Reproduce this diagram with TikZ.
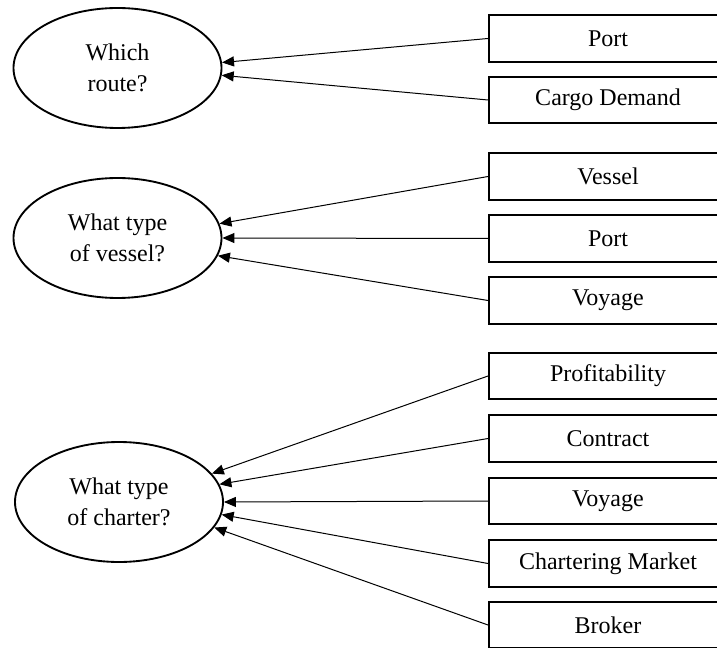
\documentclass[tikz,border=0pt]{standalone}
\usepackage{fontspec}
\setmainfont{Liberation Serif}
\usetikzlibrary{ shapes.geometric, % For the ellipses
                 arrows.meta,
               }
\tikzstyle{edge} = [-{Triangle[length=9pt,width=7.5pt]}, line width=0.75pt]
\tikzstyle{question} = [ellipse, draw=black, line width=1.4pt, minimum width=156pt, minimum height=90pt, inner sep=0pt, align=center, font=\fontsize{18}{23}\selectfont]
\tikzstyle{factor} = [rectangle, draw=black, line width=1.5pt, minimum width=178.5pt, minimum height=35pt, font=\fontsize{18}{21}\selectfont]

\begin{document}
\begin{tikzpicture}[x=0.75pt, y=-0.75pt]
  \useasboundingbox (0, 0) rectangle (717, 648);
  \clip (0, 0) rectangle (717, 648);
  % questions
  \node (q1) [question] at (117.5, 68) {Which\\route?};
  \node (q2) [question] at (117.5, 238) {What type\\of vessel?};
  \node (q3) [question] at (119, 502) {What type\\of charter?};
  % factors
  \node (r1) [factor] at (608, 38.5) {Port};
  \node (r2) [factor] at (608, 100) {Cargo Demand};
  \node (v1) [factor] at (608, 176.5) {Vessel};
  \node (v2) [factor] at (608, 238.5) {Port};
  \node (v3) [factor] at (608, 300.5) {Voyage};
  \node (c1) [factor] at (608, 376) {Profitability};
  \node (c2) [factor] at (608, 438.5) {Contract};
  \node (c3) [factor] at (608, 501) {Voyage};
  \node (c4) [factor] at (608, 563.5) {Chartering Market};
  \node (c5) [factor] at (608, 625) {Broker};
  % edges
  \path [edge] (r1.west) edge (q1.3);
  \path [edge] (r2.west) edge (q1.-4);
  \path [edge] (v1.west) edge (q2.8);
  \path [edge] (v2.west) edge (q2.0);
  \path [edge] (v3.west) edge (q2.-10);
  \path [edge] (c1.west) edge (q3.17);
  \path [edge] (c2.west) edge (q3.10);
  \path [edge] (c3.west) edge (q3.0);
  \path [edge] (c4.west) edge (q3.-7);
  \path [edge] (c5.west) edge (q3.-15);
\end{tikzpicture}
\end{document}
